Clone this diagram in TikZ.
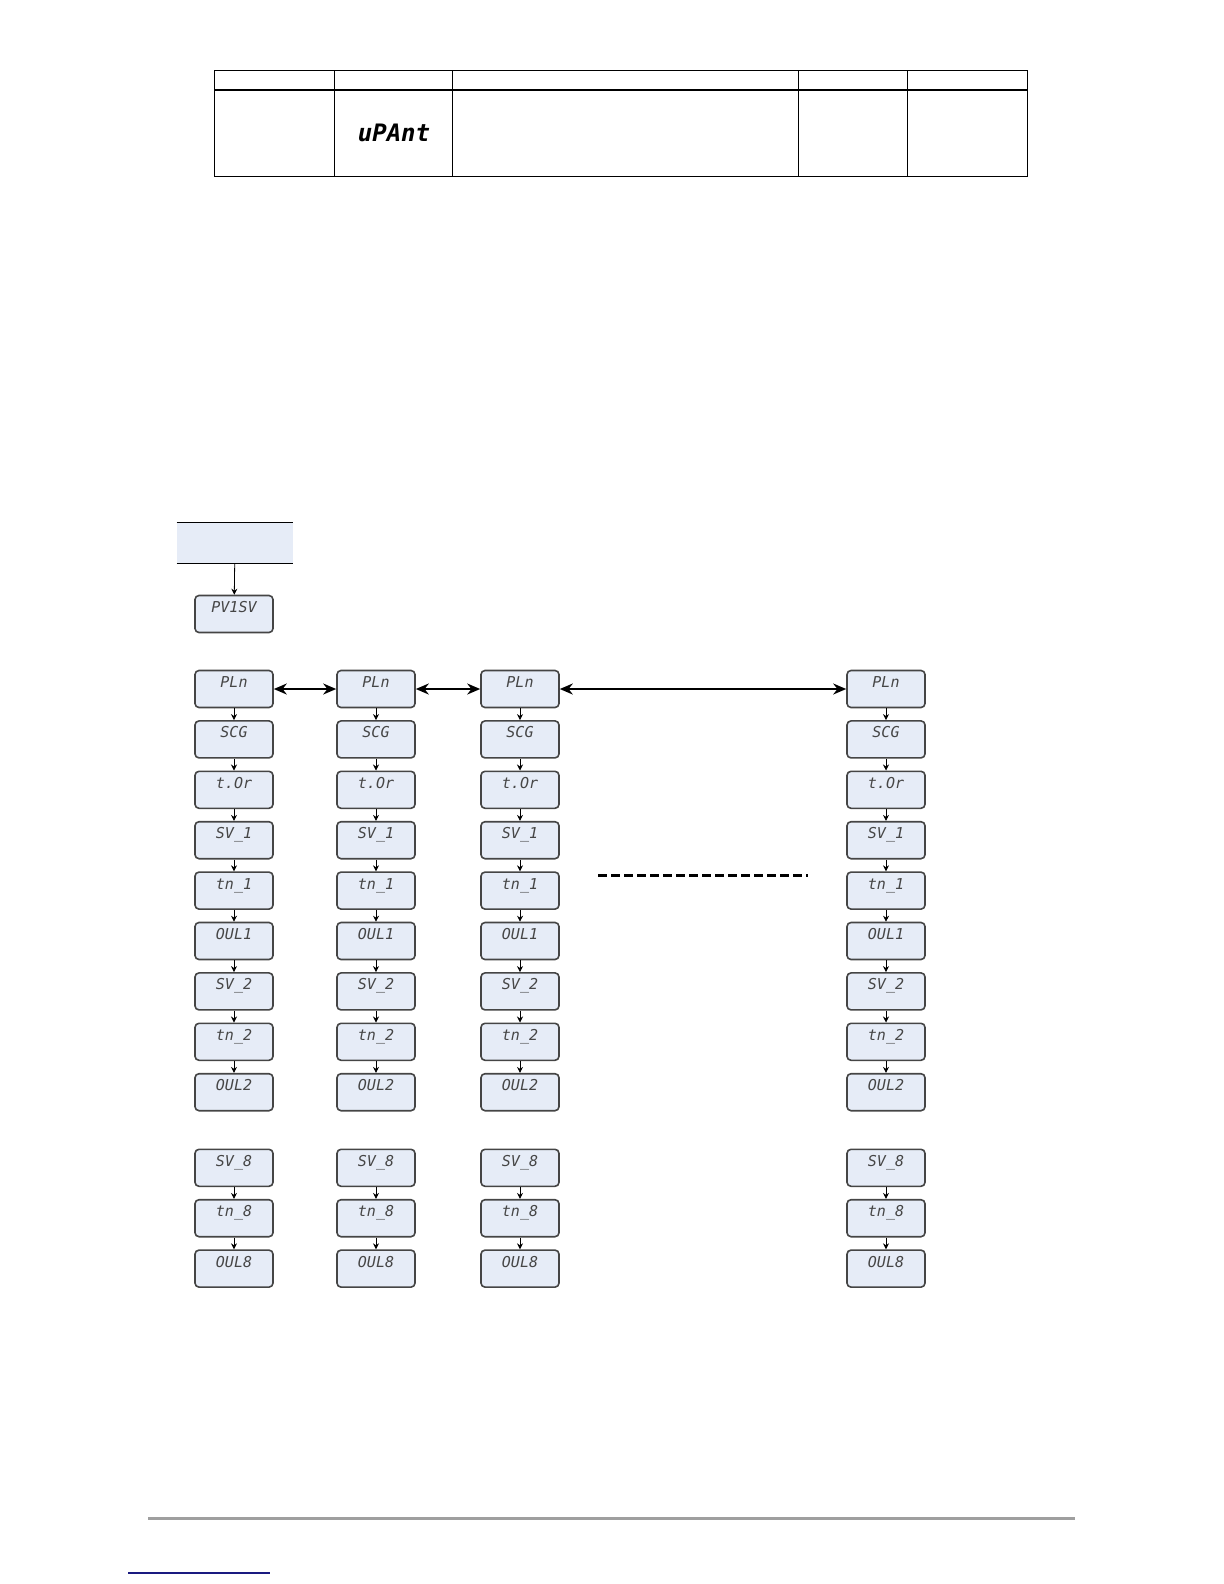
\documentclass[tikz,border=0pt]{standalone}
\usepackage{fontspec}
\newfontfamily\lcdfont{DejaVu Sans Mono}
\usetikzlibrary{arrows.meta, positioning}
\definecolor{lcdfill}{HTML}{E6ECF7}
\definecolor{lcdline}{HTML}{454545}
\definecolor{linkblue}{HTML}{1A1A80}

\begin{document}
\begin{tikzpicture}[
    x=0.5pt, y=-0.5pt,
    node distance=5.9pt,
    lcd/.style={rectangle, rounded corners=2pt, draw=lcdline, fill=lcdfill, line width=0.8pt, minimum width=39pt, minimum height=18.5pt, inner sep=0pt, text height=6pt, text depth=7.5pt, font=\lcdfont\itshape\fontsize{7.5}{8}\selectfont, text=gray!55!black},
    menubox/.style={rectangle, fill=lcdfill, minimum width=58pt, minimum height=20pt, inner sep=0pt},
    down/.style={-{Stealth[length=3pt, width=3pt]}, line width=0.4pt},
    link/.style={{Stealth[length=6.5pt, width=5.5pt]}-{Stealth[length=6.5pt, width=5.5pt]}, line width=1pt},
    rule/.style={line width=0.5pt}
]
    \useasboundingbox (0,0) rectangle (1224,1584);

    % Table at the top of the page
    \draw[rule] (214,71) rectangle (1027,176);
    \draw[line width=1.2pt] (214,90) -- (1027,90);
    \draw[rule] (334,71) -- (334,176);
    \draw[rule] (452,71) -- (452,176);
    \draw[rule] (798,71) -- (798,176);
    \draw[rule] (907,71) -- (907,176);
    \node[font=\lcdfont\itshape\bfseries\fontsize{12}{12}\selectfont] (unit) at (394,133) {uPAnt};

    % Menu entry
    \node[menubox] (menu) at (235,543) {};
    \draw[line width=0.8pt] (menu.north west) -- (menu.north east);
    \draw[line width=0.8pt] (menu.south west) -- (menu.south east);
    \node[lcd] (pv) at (234,614) {PV1SV};
    \draw[down] (menu) -- (pv);

    % Program columns
    \foreach \c/\x in {1/234, 2/376, 3/520, 4/886} {
        \node[lcd] (pln\c) at (\x,689) {PLn};
        \node[lcd, below=of pln\c] (scg\c) {SCG};
        \node[lcd, below=of scg\c] (tor\c) {t.Or};
        \node[lcd, below=of tor\c] (sva\c) {SV\_1};
        \node[lcd, below=of sva\c] (tma\c) {tn\_1};
        \node[lcd, below=of tma\c] (oua\c) {OUL1};
        \node[lcd, below=of oua\c] (svb\c) {SV\_2};
        \node[lcd, below=of svb\c] (tmb\c) {tn\_2};
        \node[lcd, below=of tmb\c] (oub\c) {OUL2};
        \node[lcd, below=18.5pt of oub\c] (svh\c) {SV\_8};
        \node[lcd, below=of svh\c] (tmh\c) {tn\_8};
        \node[lcd, below=of tmh\c] (ouh\c) {OUL8};

        \draw[down] (pln\c) -- (scg\c);
        \draw[down] (scg\c) -- (tor\c);
        \draw[down] (tor\c) -- (sva\c);
        \draw[down] (sva\c) -- (tma\c);
        \draw[down] (tma\c) -- (oua\c);
        \draw[down] (oua\c) -- (svb\c);
        \draw[down] (svb\c) -- (tmb\c);
        \draw[down] (tmb\c) -- (oub\c);
        \draw[down] (svh\c) -- (tmh\c);
        \draw[down] (tmh\c) -- (ouh\c);
    }

    % Links between programs
    \draw[link] (pln1) -- (pln2);
    \draw[link] (pln2) -- (pln3);
    \draw[link] (pln3) -- (pln4);

    \coordinate (gapl) at (598,875);
    \coordinate (gapr) at (808,875);
    \draw[line width=1.5pt, dash pattern=on 4.5pt off 2pt] (gapl) -- (gapr);

    % Page footer
    \coordinate (footl) at (148,1518);
    \coordinate (footr) at (1075,1518);
    \draw[line width=1.5pt, gray!75] (footl) -- (footr);
    \coordinate (urll) at (128,1573);
    \coordinate (urlr) at (270,1573);
    \draw[line width=0.6pt, linkblue] (urll) -- (urlr);
\end{tikzpicture}
\end{document}
